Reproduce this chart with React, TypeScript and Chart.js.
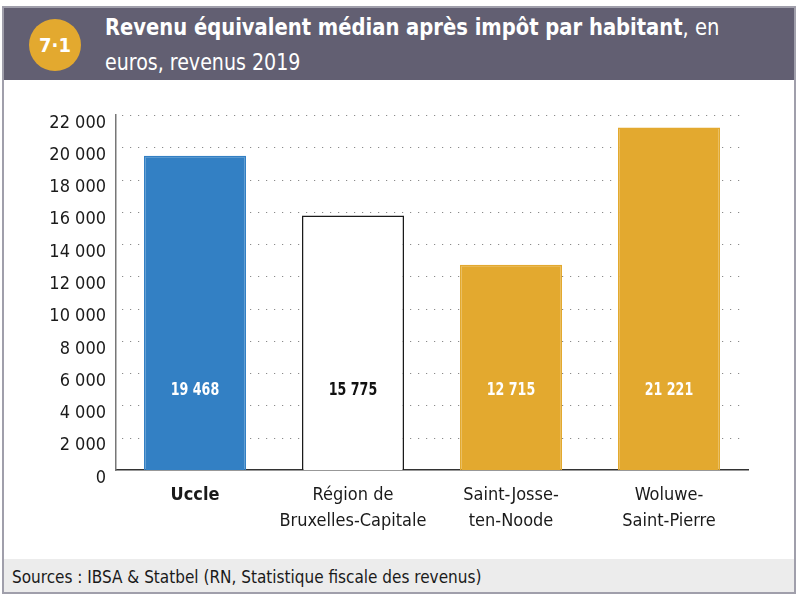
import React, { useEffect, useRef } from "react";
import { Chart, registerables } from "chart.js";
Chart.register(...registerables);

const categories: string[][] = [
  ["Uccle"],
  ["Région de", "Bruxelles-Capitale"],
  ["Saint-Josse-", "ten-Noode"],
  ["Woluwe-", "Saint-Pierre"],
];
const values = [19468, 15775, 12715, 21221];
const barColors = ["#3380c4", "#ffffff", "#e3a92f", "#e3a92f"];
const barBorders = ["#3380c4", "#1a1a1a", "#e3a92f", "#e3a92f"];
const labelColors = ["#ffffff", "#111111", "#ffffff", "#ffffff"];
const yMax = 22000;
const yStep = 2000;

const FONT = "'DejaVu Sans Condensed', 'Open Sans', sans-serif";

const fmt = (v: number) => {
  const s = Math.round(v).toString();
  return s.replace(/\B(?=(\d{3})+(?!\d))/g, " ");
};

const gridPlugin = {
  id: "dotGrid",
  beforeDatasetsDraw(chart: any) {
    const { ctx, chartArea, scales } = chart;
    const y = scales.y;
    ctx.save();
    ctx.strokeStyle = "#8a8a8a";
    ctx.lineWidth = 1.2;
    ctx.setLineDash([1.2, 6.8]);
    y.ticks.forEach((t: any) => {
      if (t.value === 0) return;
      const py = Math.round(y.getPixelForValue(t.value)) + 0.5;
      ctx.beginPath();
      ctx.moveTo(chartArea.left + 6, py);
      ctx.lineTo(chartArea.right - 3, py);
      ctx.stroke();
    });
    ctx.restore();
  },
};

const labelPlugin = {
  id: "barLabels",
  afterDatasetsDraw(chart: any) {
    const { ctx, scales } = chart;
    const meta = chart.getDatasetMeta(0);
    ctx.save();
    ctx.font = `bold 18px ${FONT}`;
    ctx.textAlign = "center";
    ctx.textBaseline = "middle";
    meta.data.forEach((bar: any, i: number) => {
      ctx.save();
      ctx.translate(bar.x, scales.y.bottom - 80);
      ctx.scale(0.78, 1);
      ctx.fillStyle = labelColors[i];
      ctx.fillText(fmt(values[i]), 0, 0);
      ctx.restore();
    });
    ctx.restore();
  },
};

export default function App() {
  const ref = useRef<HTMLCanvasElement | null>(null);
  useEffect(() => {
    if (!ref.current) return;
    const chart = new Chart(ref.current, {
      type: "bar",
      data: {
        labels: categories,
        datasets: [
          {
            data: values,
            backgroundColor: barColors,
            borderColor: barBorders,
            borderWidth: 1.5,
            categoryPercentage: 1,
            barPercentage: 102 / 158,
          },
        ],
      },
      options: {
        animation: false,
        responsive: false,
        maintainAspectRatio: false,
        layout: { padding: { left: 0, right: 50, top: 34, bottom: 0 } },
        plugins: { legend: { display: false }, tooltip: { enabled: false }, title: { display: false } },
        scales: {
          x: {
            grid: { display: false, drawTicks: false },
            border: { display: true, color: "#333333", width: 1.5 },
            ticks: {
              color: "#1a1a1a",
              padding: 12,
              maxRotation: 0,
              autoSkip: false,
              font: (c: any) => ({
                family: FONT,
                size: 18,
                lineHeight: 1.45,
                weight: c.index === 0 ? "bold" : "normal",
              }),
            },
            afterFit: (s: any) => {
              s.height = 87;
            },
          },
          y: {
            min: 0,
            max: yMax,
            grid: { display: false, drawTicks: false },
            border: { display: true, color: "#777777", width: 1.5 },
            ticks: {
              stepSize: yStep,
              color: "#1a1a1a",
              padding: 10,
              labelOffset: 8,
              font: { family: FONT, size: 18 },
              callback: (v: any) => fmt(Number(v)),
            },
            afterFit: (s: any) => {
              s.width = 116;
            },
          },
        },
      },
      plugins: [gridPlugin, labelPlugin],
    });
    return () => chart.destroy();
  }, []);

  return (
    <div style={{ position: "fixed", left: 0, top: 0, width: 798, height: 596, background: "#ffffff", overflow: "hidden" }}>
      <div
        style={{
          position: "absolute",
          left: 2,
          top: 6,
          width: 794,
          height: 588,
          border: "2px solid #a09fab",
          boxSizing: "border-box",
        }}
      />
      <div style={{ position: "absolute", left: 4, top: 8, width: 790, height: 72, background: "#625f72" }} />
      <div
        style={{
          position: "absolute",
          left: 29,
          top: 19,
          width: 52,
          height: 52,
          borderRadius: 26,
          background: "#e3a92f",
          color: "#ffffff",
          fontFamily: FONT,
          fontWeight: "bold",
          fontSize: 20,
          lineHeight: "52px",
          textAlign: "center",
        }}
      >
        7·1
      </div>
      <div
        style={{
          position: "absolute",
          left: 105,
          top: 10,
          color: "#ffffff",
          fontFamily: FONT,
          fontSize: 23,
          lineHeight: "35px",
          whiteSpace: "nowrap",
        }}
      >
        <div style={{ transform: "scaleX(0.945)", transformOrigin: "left center" }}>
          <span style={{ fontWeight: "bold" }}>Revenu équivalent médian après impôt par habitant</span>, en
        </div>
        <div style={{ transform: "scaleX(0.92)", transformOrigin: "left center" }}>euros, revenus 2019</div>
      </div>
      <canvas ref={ref} width={798} height={476} style={{ position: "absolute", left: 0, top: 81, width: 798, height: 476 }} />
      <div
        style={{
          position: "absolute",
          left: 4,
          top: 559,
          width: 790,
          height: 33,
          background: "#ececec",
          color: "#1a1a1a",
          fontFamily: FONT,
          fontSize: 17,
          lineHeight: "36px",
          paddingLeft: 8,
          boxSizing: "border-box",
        }}
      >
        Sources : IBSA &amp; Statbel (RN, Statistique fiscale des revenus)
      </div>
    </div>
  );
}
